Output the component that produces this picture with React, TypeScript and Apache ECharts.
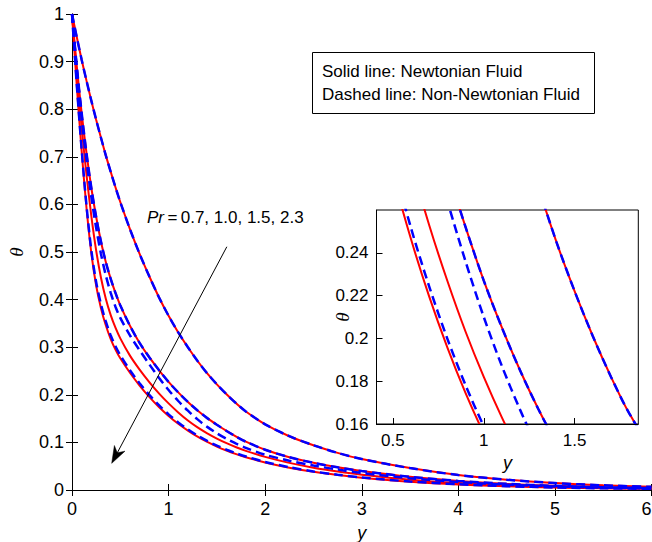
import React, { useEffect, useRef } from "react";
import * as echarts from "echarts";

// ---- Data ----
// horizontal coordinate y (shared sample positions)
const yValues = [0, 0.05, 0.1, 0.15, 0.2, 0.25, 0.3, 0.35, 0.4, 0.45, 0.5, 0.6, 0.7, 0.8, 0.9, 1.0, 1.1, 1.2, 1.3, 1.4, 1.5, 1.6, 1.7, 1.8, 2.0, 2.25, 2.5, 2.75, 3.0, 3.5, 4.0, 4.5, 5.0, 5.5, 6.0];

// temperature theta, Pr = 0.7 (Newtonian and non-Newtonian coincide)
const thetaPr07 = [1, 0.951, 0.904, 0.86, 0.818, 0.778, 0.74, 0.703, 0.669, 0.636, 0.605, 0.548, 0.496, 0.449, 0.405, 0.366, 0.331, 0.3, 0.271, 0.245, 0.222, 0.201, 0.182, 0.165, 0.138, 0.113, 0.094, 0.078, 0.065, 0.046, 0.0315, 0.0216, 0.0146, 0.0098, 0.0066];
// Pr = 1.0 (Newtonian and non-Newtonian coincide)
const thetaPr10 = [1, 0.889, 0.792, 0.708, 0.635, 0.574, 0.522, 0.479, 0.444, 0.414, 0.388, 0.345, 0.309, 0.279, 0.252, 0.227, 0.205, 0.185, 0.167, 0.151, 0.137, 0.124, 0.112, 0.1015, 0.0846, 0.0689, 0.0571, 0.0476, 0.0398, 0.0277, 0.0191, 0.0129, 0.0087, 0.0058, 0.0039];
// Pr = 1.5
const thetaPr15Newt = [1, 0.873, 0.7615, 0.6627, 0.576, 0.5034, 0.446, 0.402, 0.368, 0.341, 0.3186, 0.2823, 0.2529, 0.2268, 0.2031, 0.182, 0.163, 0.146, 0.1315, 0.119, 0.108, 0.0983, 0.0898, 0.0823, 0.0696, 0.057, 0.0469, 0.0388, 0.0321, 0.0217, 0.0146, 0.0098, 0.0065, 0.0044, 0.0029];
const thetaPr15NonNewt = [1, 0.883, 0.781, 0.692, 0.616, 0.551, 0.496, 0.451, 0.4146, 0.385, 0.3617, 0.3248, 0.2936, 0.2641, 0.2359, 0.21, 0.187, 0.1666, 0.1483, 0.1326, 0.119, 0.1074, 0.0973, 0.0886, 0.074, 0.0615, 0.0514, 0.0429, 0.0358, 0.0248, 0.0168, 0.0113, 0.0076, 0.0051, 0.0034];
// Pr = 2.3
const thetaPr23Newt = [1, 0.848, 0.7118, 0.593, 0.4978, 0.4296, 0.382, 0.346, 0.3174, 0.2948, 0.2766, 0.2463, 0.2195, 0.1957, 0.1744, 0.1556, 0.1391, 0.1247, 0.112, 0.1009, 0.0913, 0.0829, 0.0754, 0.0689, 0.0578, 0.0468, 0.0382, 0.0314, 0.0258, 0.0175, 0.0117, 0.0079, 0.0053, 0.0035, 0.0024];
const thetaPr23NonNewt = [1, 0.85, 0.715, 0.598, 0.504, 0.437, 0.39, 0.354, 0.325, 0.302, 0.283, 0.2515, 0.2242, 0.1998, 0.1781, 0.1589, 0.142, 0.1273, 0.1143, 0.103, 0.0932, 0.0846, 0.077, 0.0703, 0.059, 0.0478, 0.039, 0.0321, 0.0264, 0.0179, 0.012, 0.0081, 0.0054, 0.0036, 0.0025];

// tick labels of the inset
const insetXTicks = [0.5, 1, 1.5];
const insetYTicks = [0.16, 0.18, 0.2, 0.22, 0.24];

// texts
const legendLines = ["Solid line: Newtonian Fluid", "Dashed line: Non-Newtonian Fluid"];
const prLabel = "0.7, 1.0, 1.5, 2.3";
const arrowStart = [1.603, 0.511];
const arrowTip = [0.411, 0.056];

const RED = "#ff0000";
const BLUE = "#0000ff";
const FONT = "'Liberation Sans', Arial, Helvetica, sans-serif";
const SERIF = "'Liberation Serif', 'Times New Roman', serif";

type Curve = { name: string; ys: number[]; color: string; dashed: boolean };

const curves: Curve[] = [
  { name: "Newtonian Pr=0.7", ys: thetaPr07, color: RED, dashed: false },
  { name: "Newtonian Pr=1.0", ys: thetaPr10, color: RED, dashed: false },
  { name: "Newtonian Pr=1.5", ys: thetaPr15Newt, color: RED, dashed: false },
  { name: "Newtonian Pr=2.3", ys: thetaPr23Newt, color: RED, dashed: false },
  { name: "Non-Newtonian Pr=0.7", ys: thetaPr07, color: BLUE, dashed: true },
  { name: "Non-Newtonian Pr=1.0", ys: thetaPr10, color: BLUE, dashed: true },
  { name: "Non-Newtonian Pr=1.5", ys: thetaPr15NonNewt, color: BLUE, dashed: true },
  { name: "Non-Newtonian Pr=2.3", ys: thetaPr23NonNewt, color: BLUE, dashed: true },
];

function makeSeries(c: Curve, axisIdx: number, z: number) {
  return {
    type: "line",
    name: c.name,
    xAxisIndex: axisIdx,
    yAxisIndex: axisIdx,
    data: yValues.map((x, i) => [x, c.ys[i]]),
    showSymbol: false,
    symbol: "none",
    smooth: 0.3,
    clip: true,
    z,
    lineStyle: {
      color: c.color,
      width: c.dashed ? 2.5 : 2,
      type: c.dashed ? [9, 5] : "solid",
      cap: "butt",
    },
  };
}

export default function App() {
  const ref = useRef<HTMLDivElement>(null);
  useEffect(() => {
    document.body.style.margin = "0";
    const chart = echarts.init(ref.current!, null, { renderer: "svg" });
    const axisLine = { show: true, lineStyle: { color: "#000", width: 1 } };
    const tickIn = { show: true, inside: true, length: 6, lineStyle: { color: "#000", width: 1 } };
    const labelStyle = { color: "#000", fontSize: 17, fontFamily: FONT };
    const mainLabelStyle = { color: "#000", fontSize: 18, fontFamily: FONT };

    const option: any = {
      animation: false,
      backgroundColor: "#fff",
      grid: [
        { left: 72, top: 14, right: 0.5, bottom: 52, show: false, containLabel: false, outerBoundsMode: "none" },
        {
          left: 376.5, top: 210, right: 13.7, bottom: 118, show: true, containLabel: false, outerBoundsMode: "none",
          backgroundColor: "#fff", borderColor: "#000", borderWidth: 1, z: 3,
        },
      ],
      xAxis: [
        {
          type: "value", gridIndex: 0, min: 0, max: 6, interval: 1,
          axisLine, axisTick: tickIn, splitLine: { show: false },
          axisLabel: { ...mainLabelStyle, margin: 10, alignMaxLabel: "right" },
          name: "y", nameLocation: "middle", nameGap: 34, nameMoveOverlap: false,
          nameTextStyle: { color: "#000", fontSize: 18, fontStyle: "italic", fontFamily: FONT },
        },
        {
          type: "value", gridIndex: 1, min: 0.41, max: 1.85, z: 6,
          axisLine, splitLine: { show: false },
          axisTick: { ...tickIn, customValues: insetXTicks },
          axisLabel: { ...labelStyle, margin: 8, customValues: insetXTicks },
          name: "y", nameLocation: "middle", nameGap: 30,
          nameTextStyle: { color: "#000", fontSize: 18, fontStyle: "italic", fontFamily: FONT },
        },
        {
          type: "value", gridIndex: 0, min: 0, max: 6, interval: 1, position: "top",
          axisLine, axisTick: tickIn, splitLine: { show: false }, axisLabel: { show: false },
        },
      ],
      yAxis: [
        {
          type: "value", gridIndex: 0, min: 0, max: 1, interval: 0.1,
          axisLine, axisTick: tickIn, splitLine: { show: false },
          axisLabel: { ...mainLabelStyle, margin: 8, formatter: (v: number) => String(+v.toFixed(2)) },
          name: "θ", nameLocation: "middle", nameGap: 46, nameRotate: 90,
          nameTextStyle: { color: "#000", fontSize: 19, fontStyle: "italic", fontFamily: SERIF },
        },
        {
          type: "value", gridIndex: 1, min: 0.16, max: 0.26, interval: 0.02, z: 6,
          axisLine, splitLine: { show: false },
          axisTick: { ...tickIn, customValues: insetYTicks },
          axisLabel: { ...labelStyle, margin: 8, customValues: insetYTicks, formatter: (v: number) => String(+v.toFixed(2)) },
          name: "θ", nameLocation: "middle", nameGap: 25, nameRotate: 90, nameMoveOverlap: false,
          nameTextStyle: { color: "#000", fontSize: 19, fontStyle: "italic", fontFamily: SERIF },
        },
        {
          type: "value", gridIndex: 0, min: 0, max: 1, interval: 0.1, position: "right",
          axisLine, axisTick: tickIn, splitLine: { show: false }, axisLabel: { show: false },
        },
      ],
      series: [
        ...curves.map((c) => makeSeries(c, 0, 2)),
        ...curves.map((c) => makeSeries(c, 1, 5)),
      ],
    };
    chart.setOption(option);

    // annotation arrow computed from data coordinates
    const p0 = chart.convertToPixel({ gridIndex: 0 } as any, arrowStart) as number[];
    const p1 = chart.convertToPixel({ gridIndex: 0 } as any, arrowTip) as number[];
    const dx = p1[0] - p0[0];
    const dy = p1[1] - p0[1];
    const len = Math.hypot(dx, dy);
    const ux = dx / len, uy = dy / len;
    const nx = -uy, ny = ux;
    const L = 17, W = 6;
    const baseX = p1[0] - L * ux, baseY = p1[1] - L * uy;
    const notchX = p1[0] - 0.7 * L * ux, notchY = p1[1] - 0.7 * L * uy;

    chart.setOption({
      graphic: [
        {
          type: "line", z: 20,
          shape: { x1: p0[0], y1: p0[1], x2: notchX, y2: notchY },
          style: { stroke: "#000", lineWidth: 1 },
        },
        {
          type: "polygon", z: 20,
          shape: {
            points: [
              [p1[0], p1[1]],
              [baseX + W * nx, baseY + W * ny],
              [notchX, notchY],
              [baseX - W * nx, baseY - W * ny],
            ],
          },
          style: { fill: "#000", stroke: "#000", lineWidth: 0.5 },
        },
        {
          type: "text", z: 20, x: 147, y: 217,
          style: {
            text: "{i|Pr}{n|\u2009=\u2009" + prLabel + "}",
            verticalAlign: "middle",
            rich: {
              i: { fontSize: 17, fontStyle: "italic", fontFamily: FONT, fill: "#000" },
              n: { fontSize: 17, fontFamily: FONT, fill: "#000" },
            },
          },
        },
        {
          type: "group", z: 20,
          children: [
            {
              type: "rect", z: 20,
              shape: { x: 312.5, y: 52.5, width: 282, height: 61 },
              style: { fill: "#fff", stroke: "#000", lineWidth: 1 },
            },
            {
              type: "text", z: 21, x: 322, y: 71,
              style: { text: legendLines[0], fontSize: 17, fontFamily: FONT, fill: "#000", verticalAlign: "middle" },
            },
            {
              type: "text", z: 21, x: 322, y: 94,
              style: { text: legendLines[1], fontSize: 17, fontFamily: FONT, fill: "#000", verticalAlign: "middle" },
            },
          ],
        },
      ],
    });

    return () => chart.dispose();
  }, []);
  return <div ref={ref} style={{ width: 652, height: 542 }} />;
}
